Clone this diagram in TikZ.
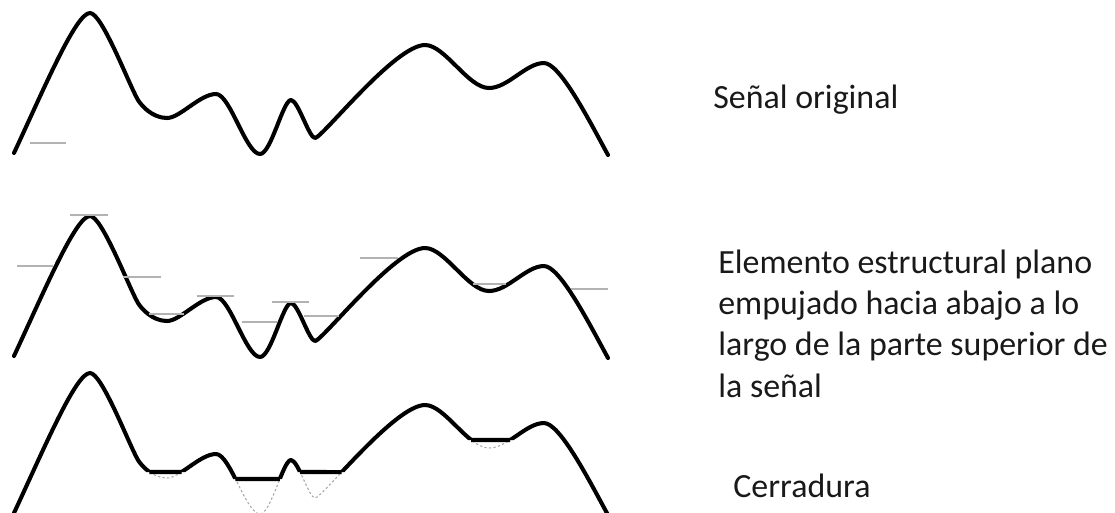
\documentclass[tikz,border=0pt]{standalone}
\usepackage{fontspec}
\setmainfont{Carlito}
\usetikzlibrary{intersections}
\newcommand\sigcurve[1]{\path[#1] (14,153) .. controls (45,86.3) and (76,13) .. (90,13) .. controls (102,13) and (128.9,84.5) .. (138,100) .. controls (141,105) and (152,118) .. (167,118) .. controls (180,118) and (200,94) .. (216,94) .. controls (230,94) and (246,154) .. (260,154) .. controls (271,154) and (283,100) .. (291,100) .. controls (298,100) and (309,138) .. (315,138) .. controls (322,138) and (395,45) .. (425,45) .. controls (445,45) and (468,88) .. (489,88) .. controls (508,88) and (526,63) .. (544,63) .. controls (560,63) and (590,122) .. (608,155);}
\begin{document}
\begin{tikzpicture}[x=0.02cm,y=-0.02cm,
  sig/.style={draw=black, line width=2.3pt, line join=round, line cap=round},
  selem/.style={line width=0.7pt, gray!60},
  dotg/.style={draw=gray!70, line width=0.6pt, dash pattern=on 1.3pt off 1.3pt},
  flat/.style={line width=2.3pt, black},
  lbl/.style={font=\fontsize{19.3}{23.6}\selectfont, inner sep=0pt, anchor=base west, text=black!90}]
\useasboundingbox (0,0) rectangle (1115,512);
% --- original signal
\sigcurve{sig}
\draw[selem] (30,143) -- (66,143);
% --- signal with structuring element
\begin{scope}[shift={(0,203)}]
  \sigcurve{sig}
\end{scope}
\foreach \a/\b/\y in {17/53/266, 70/108/215, 123/161/277, 149/184/314, 197/234/296, 242/277/322, 272/309/302, 304/339/316, 360/398/258, 473/506/284, 571/608/289}
  \draw[selem] (\a,\y) -- (\b,\y);
% --- closing
\begin{scope}[shift={(0,360)}]
  \sigcurve{dotg}
  \sigcurve{name path global=c3}
\end{scope}
\begin{scope}
  \clip (0,330) -- (0,530) -- (120,530) -- (120,472) -- (205,472) -- (205,530) -- (225,530) -- (225,479) -- (285,479) -- (285,530) -- (293,530) -- (293,472) -- (360,472) -- (360,530) -- (440,530) -- (440,440) -- (530,440) -- (530,530) -- (640,530) -- (640,330) -- cycle;
  \begin{scope}[shift={(0,360)}]
    \sigcurve{sig}
  \end{scope}
\end{scope}
\path[name path=h1] (120,472) -- (205,472);
\path[name path=h2] (225,479) -- (285,479);
\path[name path=h3] (293,472) -- (360,472);
\path[name path=h4] (440,440) -- (530,440);
\path[name intersections={of=c3 and h1, by={a1,b1}}];
\path[name intersections={of=c3 and h2, by={a2,b2}}];
\path[name intersections={of=c3 and h3, by={a3,b3}}];
\path[name intersections={of=c3 and h4, by={a4,b4}}];
\draw[flat] (a1) -- (b1);
\draw[flat] (a2) -- (b2);
\draw[flat] (a3) -- (b3);
\draw[flat] (a4) -- (b4);
% --- labels
\node[lbl] (t1) at (713,108) {Señal original};
\node[lbl] (t2) at (718,273) {\begin{tabular}[t]{@{}l@{}}Elemento estructural plano\\ empujado hacia abajo a lo\\ largo de la parte superior de\\ la señal\end{tabular}};
\node[lbl] (t3) at (733,497) {Cerradura};
\end{tikzpicture}
\end{document}
